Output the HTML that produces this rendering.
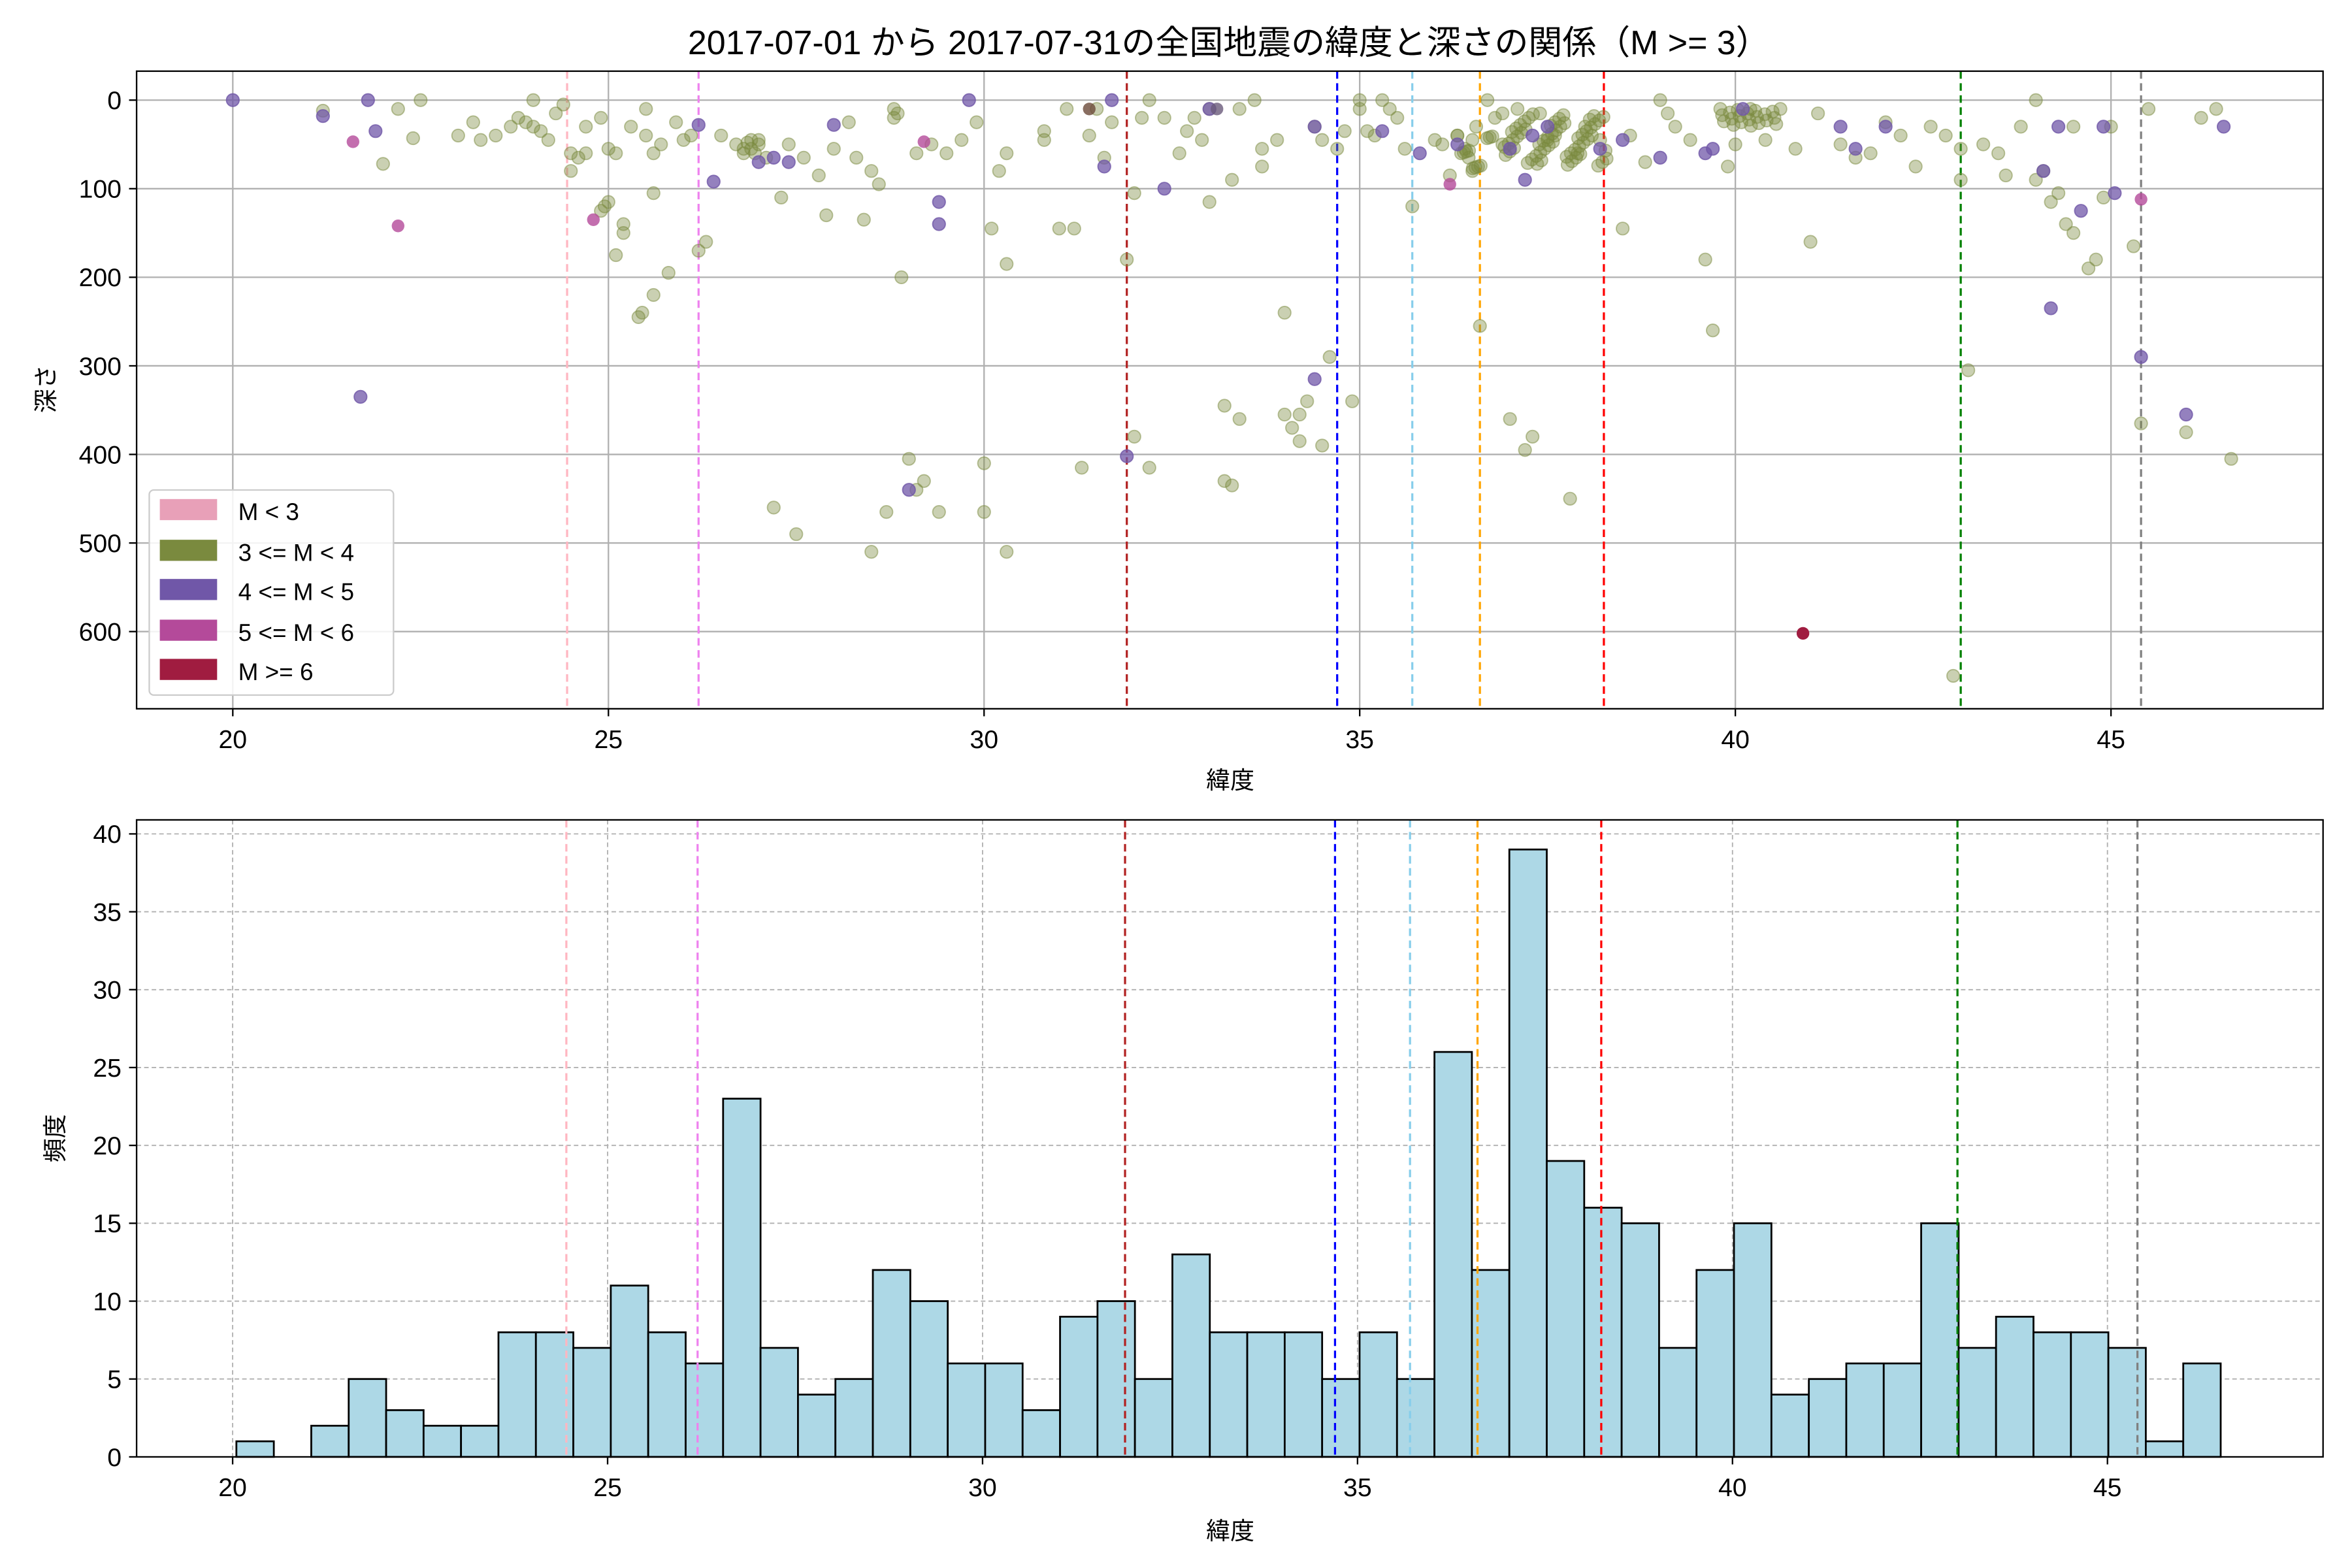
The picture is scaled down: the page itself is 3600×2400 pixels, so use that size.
<!DOCTYPE html>
<html><head><meta charset="utf-8"><style>
html,body{margin:0;padding:0;background:#fff}
svg{display:block}
text{font-family:"Liberation Sans","Noto Sans CJK JP",sans-serif;fill:#000}
</style></head><body>
<svg id="s" width="3600" height="2400" viewBox="0 0 1560 1040" xmlns="http://www.w3.org/2000/svg">
<rect width="1560" height="1040" fill="#fff"/>
<text x="815" y="36" font-size="22.5" text-anchor="middle">2017-07-01 から 2017-07-31の全国地震の緯度と深さの関係（M &gt;= 3）</text>
<g id="gtop"></g>
<g id="gbot"></g>
<text x="816" y="523" font-size="16" text-anchor="middle">緯度</text>
<text x="816" y="1021" font-size="16" text-anchor="middle">緯度</text>
<text transform="translate(36,258) rotate(-90)" font-size="16" text-anchor="middle">深さ</text>
<text transform="translate(42,755) rotate(-90)" font-size="16" text-anchor="middle">頻度</text>
<g id="leg">
<rect x="99" y="325" width="162" height="136" rx="3" fill="#fff" fill-opacity="0.85" stroke="#ccc"/>
<rect x="106" y="331" width="38" height="14" fill="#e8a0b8"/><text x="158" y="345" font-size="16">M &lt; 3</text>
<rect x="106" y="358" width="38" height="14" fill="#7a8a3e"/><text x="158" y="372" font-size="16">3 &lt;= M &lt; 4</text>
<rect x="106" y="384" width="38" height="14" fill="#7057a8"/><text x="158" y="398" font-size="16">4 &lt;= M &lt; 5</text>
<rect x="106" y="411" width="38" height="14" fill="#b44a9a"/><text x="158" y="425" font-size="16">5 &lt;= M &lt; 6</text>
<rect x="106" y="437" width="38" height="14" fill="#a01c40"/><text x="158" y="451" font-size="16">M &gt;= 6</text>
</g>
</svg>
<script>
(function(){
var NS="http://www.w3.org/2000/svg";
function el(p,t,a,txt){var e=document.createElementNS(NS,t);for(var k in a)e.setAttribute(k,a[k]);if(txt!==undefined)e.textContent=txt;p.appendChild(e);return e;}
var XT=function(v){return 154.4+(v-20)*49.83;};
var XB=function(v){return 154.3+(v-20)*49.74;};
var L=90.6,R=1540.8,T1=47.2,B1=470.1,T2=543.8,B2=966.3;
var gTop=document.getElementById('gtop'),gBot=document.getElementById('gbot');
var TY=function(d){return 66.4+d*0.5875;}, BY=function(c){return B2-c*10.33;};
var v,d,c,i;
for(v=20;v<=45;v+=5){el(gTop,'line',{x1:XT(v),x2:XT(v),y1:T1,y2:B1,stroke:'#b0b0b0','stroke-width':1});el(gTop,'line',{x1:XT(v),x2:XT(v),y1:B1,y2:B1+5,stroke:'#000'});el(gTop,'text',{x:XT(v),y:B1+26,'font-size':17,'text-anchor':'middle'},v);}
for(d=0;d<=600;d+=100){el(gTop,'line',{x1:L,x2:R,y1:TY(d),y2:TY(d),stroke:'#b0b0b0','stroke-width':1});el(gTop,'line',{x1:L-5,x2:L,y1:TY(d),y2:TY(d),stroke:'#000'});el(gTop,'text',{x:L-10,y:TY(d)+6,'font-size':17,'text-anchor':'end'},d);}
var vl=[[24.45,'#ffb6c1'],[26.2,'#ee82ee'],[31.9,'#b22222'],[34.7,'#0000ff'],[35.7,'#87ceeb'],[36.6,'#ffa500'],[38.25,'#ff0000'],[43.0,'#008000'],[45.4,'#808080']];
function vlines(g,X,y1,y2){vl.forEach(function(p){el(g,'line',{x1:X(p[0]),x2:X(p[0]),y1:y1,y2:y2,stroke:p[1],'stroke-width':1.4,'stroke-dasharray':'5,3'});});}
var ol=[[21.2,12],[22,72],[22.2,10],[22.5,0],[22.4,43],[23,40],[23.2,25],[23.3,45],[23.5,40],[23.7,30],[23.8,20],[23.9,25],[24,0],[24,30],[24.1,35],[24.2,45],[24.3,15],[24.4,5],[24.5,60],[24.5,80],[24.6,65],[24.7,30],[24.7,60],[24.9,20],[24.9,125],[24.95,120],[25,115],[25,55],[25.1,60],[25.1,175],[25.2,150],[25.2,140],[25.3,30],[25.4,245],[25.45,240],[25.5,10],[25.5,40],[25.6,60],[25.6,105],[25.6,220],[25.7,50],[25.8,195],[25.9,25],[26,45],[26.1,40],[26.2,170],[26.3,160],[26.5,40],[26.7,50],[26.8,55],[26.9,45],[26.95,60],[27,50],[27.1,65],[26.85,48],[26.9,55],[27,45],[26.8,60],[27.2,460],[27.3,110],[27.4,50],[27.5,490],[27.6,65],[27.8,85],[27.9,130],[28,55],[28.2,25],[28.3,65],[28.4,135],[28.5,80],[28.5,510],[28.6,95],[28.7,465],[28.8,10],[28.8,20],[28.85,15],[28.9,200],[29,405],[29.1,440],[29.1,60],[29.2,430],[29.3,50],[29.4,465],[29.5,60],[29.7,45],[29.9,25],[30,410],[30,465],[30.1,145],[30.2,80],[30.3,60],[30.3,185],[30.3,510],[30.8,35],[30.8,45],[31,145],[31.2,145],[31.1,10],[31.3,415],[31.4,40],[31.5,10],[31.6,65],[31.7,25],[31.9,180],[32,380],[32,105],[32.1,20],[32.2,0],[32.2,415],[32.4,20],[32.6,60],[32.7,35],[32.8,20],[32.9,45],[33,115],[33,10],[33.3,90],[33.4,10],[33.6,0],[33.2,345],[33.4,360],[33.2,430],[33.3,435],[33.7,75],[33.7,55],[33.9,45],[34,240],[34,355],[34.1,370],[34.2,385],[34.2,355],[34.3,340],[34.4,30],[34.5,45],[34.5,390],[34.6,290],[34.7,55],[34.8,35],[34.9,340],[35,0],[35,10],[35.1,35],[35.2,40],[35.3,0],[35.4,10],[35.5,20],[35.6,55],[35.7,120],[36,45],[36.1,50],[36.2,85],[36.3,40],[36.4,55],[36.5,80],[36.45,65],[36.5,45],[36.55,30],[36.6,255],[36.7,0],[36.8,20],[36.9,50],[37,360],[37.1,10],[37.2,395],[37.3,380],[37.4,15],[37.5,45],[37.6,40],[37.8,450],[37.9,60],[38,30],[38.2,45],[38.5,145],[38.6,40],[38.8,70],[39,0],[39.1,15],[39.2,30],[39.4,45],[39.6,180],[39.7,260],[39.9,75],[40,50],[40.2,10],[40.4,45],[40.6,10],[40.8,55],[41,160],[41.1,15],[41.4,50],[41.6,65],[41.8,60],[42,25],[42.2,40],[42.4,75],[42.6,30],[42.8,40],[42.9,650],[43,55],[43,90],[43.1,305],[43.3,50],[43.5,60],[43.6,85],[43.8,30],[44,0],[44,90],[44.1,80],[44.2,115],[44.3,105],[44.4,140],[44.5,150],[44.5,30],[44.7,190],[44.8,180],[44.9,110],[45,30],[45.3,165],[45.4,365],[45.5,10],[46,375],[46.2,20],[46.4,10],[46.6,405]];
for(i=0;i<60;i++){ol.push([36.9+((i*37)%100)/100*1.4,15+((i*53)%60)]);}
for(i=0;i<20;i++){ol.push([39.8+((i*29)%100)/100*0.8,10+((i*41)%40)]);}
for(i=0;i<12;i++){ol.push([36.3+((i*31)%100)/100*0.5,40+((i*17)%50)]);}
var pu=[[20,0],[21.2,18],[21.7,335],[21.8,0],[21.9,35],[26.2,28],[26.4,92],[27,70],[27.2,65],[27.4,70],[28,28],[29,440],[29.4,115],[29.4,140],[29.8,0],[31.6,75],[31.7,0],[31.9,402],[32.4,100],[33,10],[34.4,30],[34.4,315],[35.3,35],[35.8,60],[36.3,50],[37,55],[37.2,90],[37.3,40],[37.5,30],[38.2,55],[38.5,45],[39,65],[39.6,60],[39.7,55],[40.1,10],[41.4,30],[41.6,55],[42,30],[44.3,30],[44.1,80],[44.2,235],[44.6,125],[44.9,30],[45.4,290],[45.05,105],[46,355],[46.5,30]];
var mg=[[21.6,47],[22.2,142],[24.8,135],[29.2,47],[36.2,95],[45.4,112]];
vlines(gTop,XT,T1,B1);
ol.forEach(function(p){el(gTop,'circle',{cx:XT(p[0]),cy:TY(p[1]),r:4.2,fill:'#7a8a3e','fill-opacity':0.4,stroke:'#7a8a3e','stroke-opacity':0.5,'stroke-width':0.8});});
pu.forEach(function(p){el(gTop,'circle',{cx:XT(p[0]),cy:TY(p[1]),r:4.2,fill:'#7057a8','fill-opacity':0.75,stroke:'#7057a8','stroke-opacity':0.8,'stroke-width':0.8});});
mg.forEach(function(p){el(gTop,'circle',{cx:XT(p[0]),cy:TY(p[1]),r:4.2,fill:'#b44a9a','fill-opacity':0.8});});
el(gTop,'circle',{cx:XT(40.9),cy:TY(602),r:4.2,fill:'#a01c40'});
el(gTop,'circle',{cx:XT(31.4),cy:TY(10),r:4.2,fill:'#6b4a3a','fill-opacity':0.8});
el(gTop,'circle',{cx:XT(33.1),cy:TY(10),r:4.2,fill:'#6a5a7a','fill-opacity':0.8});
el(gTop,'rect',{x:L,y:T1,width:R-L,height:B1-T1,fill:'none',stroke:'#000','stroke-width':1});
document.getElementById('s').appendChild(document.getElementById('leg'));
for(v=20;v<=45;v+=5){el(gBot,'line',{x1:XB(v),x2:XB(v),y1:T2,y2:B2,stroke:'#b0b0b0','stroke-width':0.8,'stroke-dasharray':'3,2'});el(gBot,'line',{x1:XB(v),x2:XB(v),y1:B2,y2:B2+5,stroke:'#000'});el(gBot,'text',{x:XB(v),y:B2+26,'font-size':17,'text-anchor':'middle'},v);}
for(c=0;c<=40;c+=5){el(gBot,'line',{x1:L,x2:R,y1:BY(c),y2:BY(c),stroke:'#b0b0b0','stroke-width':0.8,'stroke-dasharray':'3,2'});el(gBot,'line',{x1:L-5,x2:L,y1:BY(c),y2:BY(c),stroke:'#000'});el(gBot,'text',{x:L-10,y:BY(c)+6,'font-size':17,'text-anchor':'end'},c);}
var cnt=[1,0,2,5,3,2,2,8,8,7,11,8,6,23,7,4,5,12,10,6,6,3,9,10,5,13,8,8,8,5,8,5,26,12,39,19,16,15,7,12,15,4,5,6,6,15,7,9,8,8,7,1,6];
var w=(46.51-20.05)/53;
cnt.forEach(function(c,i){if(c>0){var x0=XB(20.05+i*w),x1=XB(20.05+(i+1)*w);el(gBot,'rect',{x:x0,y:BY(c),width:x1-x0,height:B2-BY(c),fill:'#add8e6',stroke:'#000','stroke-width':1.2});}});
vlines(gBot,XB,T2,B2);
el(gBot,'rect',{x:L,y:T2,width:R-L,height:B2-T2,fill:'none',stroke:'#000','stroke-width':1});
})();
</script>
</body></html>
